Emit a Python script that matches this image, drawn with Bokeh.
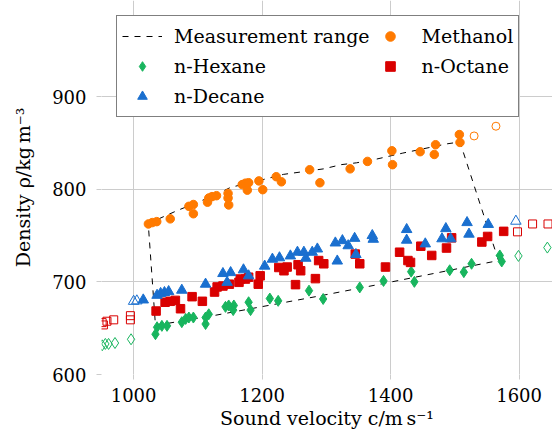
from bokeh.plotting import figure
from bokeh.models import Range1d, FixedTicker, Legend, LegendItem
from bokeh.embed import file_html
from bokeh.resources import INLINE

# ---------------- data ----------------
x_ticks = [1000, 1200, 1400, 1600]
y_ticks = [600, 700, 800, 900]

range_c = [1023, 1039, 1068, 1107, 1135, 1151, 1205, 1233, 1296, 1323, 1347, 1378, 1419, 1488, 1508,
           1536, 1568, 1467, 1380, 1291, 1198, 1120, 1034, 1023]
range_rho = [760.5, 768, 777, 788, 796.5, 802, 811, 816, 822, 826.5, 828.5, 832.5, 839, 849, 851,
             791, 723, 709, 697, 685, 673, 663, 653, 760.5]

meth_c = [1023, 1029, 1036, 1057, 1086, 1093, 1093, 1117, 1122, 1129, 1115, 1147, 1147, 1148, 1169,
          1174, 1179, 1177, 1195, 1201, 1222, 1230, 1274, 1290, 1337, 1364, 1402, 1403, 1446, 1470,
          1468, 1507, 1508]
meth_rho = [762.5, 764, 765, 768, 781.5, 783.5, 773.5, 790.5, 792, 793, 786, 795.5, 790.5, 783, 805,
            806.5, 807, 799, 809, 799.5, 813.5, 808, 821, 807, 822, 830, 841.5, 826.5, 840.5, 848,
            837.5, 859, 850.5]
meth_open_c = [1530, 1564]
meth_open_rho = [857.5, 868]

hex_c = [1034, 1036.5, 1044, 1052, 1075, 1081, 1086, 1093, 1112, 1112, 1117, 1143, 1148, 1156, 1155,
         1179, 1182, 1212, 1225, 1273, 1295, 1352, 1389, 1432, 1437, 1492, 1514, 1526, 1570, 1573]
hex_rho = [643.5, 651, 652.5, 652.5, 656.5, 660, 661.5, 661.5, 654.5, 661.5, 665, 673, 674.5, 674.5, 669.5,
           678, 669.5, 682, 679.5, 690.5, 681.5, 694, 701, 711, 700, 712.5, 710.5, 719.5, 728.5, 722]
hex_open_c = [951, 956, 961, 971, 996, 1599, 1644]
hex_open_rho = [631.5, 633, 633, 634, 638, 728, 737]

oct_c = [1035, 1049, 1057, 1065, 1073, 1091, 1107, 1126, 1130, 1139, 1149, 1164, 1166, 1174, 1179,
         1194, 1197, 1226, 1234, 1239, 1252, 1256, 1260, 1283, 1288, 1296, 1345, 1352, 1392, 1414,
         1427, 1431, 1447, 1464, 1487, 1495, 1542, 1551, 1576]
oct_rho = [668.5, 678, 679, 680, 671, 684, 679, 689, 694.5, 695.5, 697.5, 699.5, 703, 703, 705,
           697.5, 706.5, 715.5, 712, 716, 697, 718.5, 712, 703.5, 723, 719.5, 730, 719.5, 716, 732,
           723, 721, 738.5, 728.5, 736.5, 747.5, 743, 749, 754.5]
oct_open_c = [951, 953, 958.5, 969, 995, 995, 1597.5, 1621, 1645]
oct_open_rho = [656, 653.5, 657.5, 659, 663.5, 659, 754, 762.5, 762.5]

dec_c = [1015, 1036.5, 1042, 1048, 1054.5, 1075, 1112, 1139, 1151, 1145.5, 1171, 1179, 1204, 1216, 1227,
         1244, 1255, 1265, 1268, 1278, 1286, 1317, 1314, 1325, 1334, 1344, 1346, 1371.5, 1373, 1425,
         1425, 1454, 1480, 1486, 1493.5, 1519, 1522, 1552]
dec_rho = [680.5, 685.5, 687.5, 688.5, 689.5, 691, 697.5, 709, 710, 699.5, 713, 706.5, 717, 724.5, 726,
           728, 732, 732, 725.5, 732, 735.5, 722.5, 742, 744.5, 739, 747, 729.5, 750, 746, 756.5,
           745, 741, 746.5, 757.5, 746.5, 764, 751.5, 762]
dec_open_c = [1000, 1005, 1595]
dec_open_rho = [679, 679.5, 765.5]

# ---------------- style ----------------
ORANGE = "#ff7a00"
GREEN = "#18b55e"
RED = "#d90000"
BLUE = "#1a6fcf"
GRID = "#cccccc"
FONT = "DejaVu Serif"

p = figure(width=552, height=443,
           x_range=Range1d(950, 1652), y_range=Range1d(600, 1003.7),
           output_backend="svg", toolbar_location=None,
           min_border_left=101, min_border_right=0, min_border_top=0, min_border_bottom=69)
p.outline_line_color = None
p.background_fill_color = "white"
p.border_fill_color = "white"

p.xaxis.ticker = FixedTicker(ticks=x_ticks)
p.yaxis.ticker = FixedTicker(ticks=y_ticks)
for ax in (p.xaxis[0], p.yaxis[0]):
    ax.axis_line_color = None
    ax.major_tick_line_color = GRID
    ax.major_tick_out = 5
    ax.major_tick_in = 0
    ax.minor_tick_line_color = None
    ax.major_label_text_font = FONT
    ax.major_label_text_font_size = "18px"
    ax.major_label_text_color = "black"
    ax.axis_label_text_font = FONT
    ax.axis_label_text_font_size = "19px"
    ax.axis_label_text_font_style = "normal"
    ax.axis_label_text_color = "black"
p.xaxis.major_label_standoff = 8
p.xaxis.axis_label_standoff = 2
p.yaxis.major_label_standoff = 10
p.yaxis.axis_label_standoff = 15
p.xaxis.axis_label = "Sound velocity c/m\u2009s\u207b\u00b9"
p.yaxis.axis_label = "Density \u03c1/kg\u2009m\u207b\u00b3"

p.xgrid.ticker = FixedTicker(ticks=x_ticks)
p.ygrid.ticker = FixedTicker(ticks=y_ticks)
p.grid.grid_line_color = GRID
p.grid.grid_line_width = 1

# ---------------- glyphs ----------------
r_range = p.line(range_c, range_rho, line_color="black", line_width=1, line_dash="6 6")

r_meth = p.scatter(meth_c, meth_rho, marker="circle", size=8.5, fill_color=ORANGE, line_color=ORANGE)
p.scatter(meth_open_c, meth_open_rho, marker="circle", size=8, fill_color=None, line_color=ORANGE, line_width=1)

r_hex = p.scatter(hex_c, hex_rho, marker="diamond", size=11, fill_color=GREEN, line_color=GREEN)
p.scatter(hex_open_c, hex_open_rho, marker="diamond", size=11, fill_color=None, line_color=GREEN, line_width=1)

r_oct = p.scatter(oct_c, oct_rho, marker="square", size=8.5, fill_color=RED, line_color=RED)
p.scatter(oct_open_c, oct_open_rho, marker="square", size=8, fill_color=None, line_color=RED, line_width=1)

r_dec = p.scatter(dec_c, dec_rho, marker="triangle", size=10.5, fill_color=BLUE, line_color=BLUE)
p.scatter(dec_open_c, dec_open_rho, marker="triangle", size=10.5, fill_color=None, line_color=BLUE, line_width=1)

legend = Legend(items=[
    LegendItem(label="Measurement range", renderers=[r_range]),
    LegendItem(label="n-Hexane", renderers=[r_hex]),
    LegendItem(label="n-Decane", renderers=[r_dec]),
    LegendItem(label="Methanol", renderers=[r_meth]),
    LegendItem(label="n-Octane", renderers=[r_oct]),
], location=(15, 257), ncols=2)
legend.label_text_font = FONT
legend.label_text_font_size = "19px"
legend.label_text_color = "black"
legend.glyph_width = 40
legend.glyph_height = 24
legend.label_height = 30
legend.label_standoff = 12
legend.spacing = 0
legend.padding = 5
legend.margin = 0
legend.border_line_color = "black"
legend.border_line_width = 1
legend.background_fill_color = "white"
legend.background_fill_alpha = 1
p.add_layout(legend)

open("out.html", "w").write(file_html(p, INLINE))
